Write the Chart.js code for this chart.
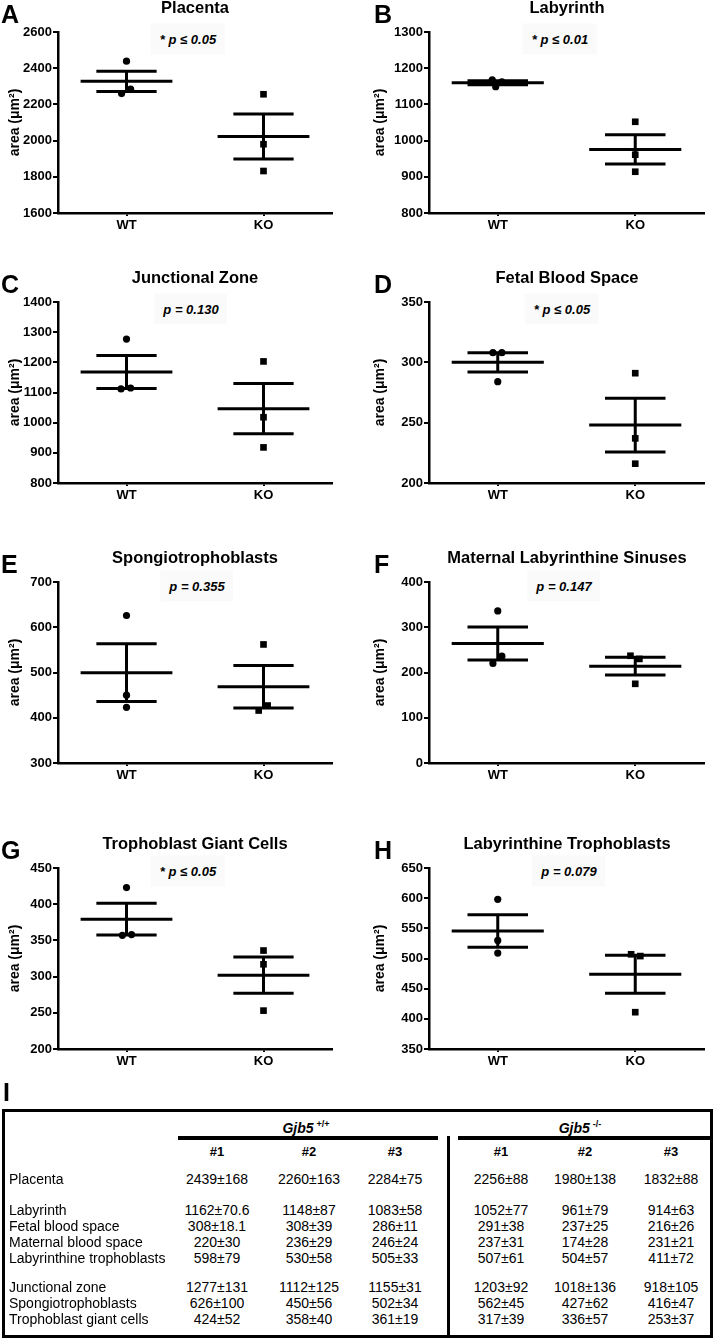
<!DOCTYPE html>
<html>
<head>
<meta charset="utf-8">
<script src="https://cdn.jsdelivr.net/npm/chart.js@4.4.0/dist/chart.umd.min.js"></script>
<style>
body{margin:0;background:#fff;font-family:"Liberation Sans",Arial,sans-serif;color:#000}
#page{position:relative;width:714px;height:1340px;overflow:hidden;background:#fff}
.abs{position:absolute}
.letter{font-size:25px;font-weight:bold;line-height:25px}
.ttl{font-size:16.5px;font-weight:bold;transform:translate(-50%,-50%);white-space:nowrap}
.pval{font-size:13px;font-weight:bold;font-style:italic;transform:translate(-50%,-50%);background:#fafafa;padding:8px 9px;white-space:nowrap}
.cell{font-size:14px;transform:translate(-50%,-50%);white-space:nowrap}
.lab{font-size:14px;transform:translateY(-50%);white-space:nowrap}
.hd{font-size:13px;font-weight:bold;transform:translate(-50%,-50%)}
.gh{font-size:14px;font-weight:bold;font-style:italic;transform:translate(-50%,-50%);white-space:nowrap}
.gh sup{font-size:9px;font-style:normal;vertical-align:6px;margin-left:3px}
.blk{background:#000}
</style>
</head>
<body>
<div id="page"></div>
<script>
// panels A-H
var letters = ['A', 'B', 'C', 'D', 'E', 'F', 'G', 'H'];
var titles = ['Placenta', 'Labyrinth', 'Junctional Zone', 'Fetal Blood Space',
  'Spongiotrophoblasts', 'Maternal Labyrinthine Sinuses', 'Trophoblast Giant Cells', 'Labyrinthine Trophoblasts'];
var pTexts = ['* p ≤ 0.05', '* p ≤ 0.01', 'p = 0.130', '* p ≤ 0.05', 'p = 0.355', 'p = 0.147', '* p ≤ 0.05', 'p = 0.079'];
var groups = ['WT', 'KO'];
var wtValues = [[2439, 2260, 2284], [1168, 1149, 1162], [1277, 1112, 1115], [308, 308, 284],
  [626, 450, 423], [336, 236, 220], [423, 357, 358], [598, 530, 509]];
var koValues = [[2256, 1980, 1832], [1052, 961, 914], [1203, 1018, 918], [291, 237, 216],
  [562, 427, 416], [237, 230, 175], [336, 317, 253], [507, 504, 411]];
var yMin = [1600, 800, 800, 200, 300, 0, 200, 350];
var yMax = [2600, 1300, 1400, 350, 700, 400, 450, 650];
var yStep = [200, 100, 100, 50, 100, 100, 50, 50];
var yTitle = 'area (\u03bcm\u00b2)';

// panel I table
var tableRows = ['Placenta', 'Labyrinth', 'Fetal blood space', 'Maternal blood space', 'Labyrinthine trophoblasts',
  'Junctional zone', 'Spongiotrophoblasts', 'Trophoblast giant cells'];
var colHeads = ['#1', '#2', '#3'];
var wtTable = [
  ['2439\u00b1168', '2260\u00b1163', '2284\u00b175'],
  ['1162\u00b170.6', '1148\u00b187', '1083\u00b158'],
  ['308\u00b118.1', '308\u00b139', '286\u00b111'],
  ['220\u00b130', '236\u00b129', '246\u00b124'],
  ['598\u00b179', '530\u00b158', '505\u00b133'],
  ['1277\u00b1131', '1112\u00b1125', '1155\u00b131'],
  ['626\u00b1100', '450\u00b156', '502\u00b134'],
  ['424\u00b152', '358\u00b140', '361\u00b119']];
var koTable = [
  ['2256\u00b188', '1980\u00b1138', '1832\u00b188'],
  ['1052\u00b177', '961\u00b179', '914\u00b163'],
  ['291\u00b138', '237\u00b125', '216\u00b126'],
  ['237\u00b131', '174\u00b128', '231\u00b121'],
  ['507\u00b161', '504\u00b157', '411\u00b172'],
  ['1203\u00b192', '1018\u00b1136', '918\u00b1105'],
  ['562\u00b145', '427\u00b162', '416\u00b147'],
  ['317\u00b139', '336\u00b157', '253\u00b137']];

// layout
var axisTops = [32, 302, 582, 868];
var pX = [188, 560, 191, 562, 197, 564, 188, 569];
var pDy = [7, 7, 7, 7, 4, 4, 3, 3];
// small horizontal spread of overlapping dots (x units)
var wtSpread = [[0, -0.036, 0.03], [-0.04, -0.015, 0.03], [0, -0.04, 0.03], [-0.035, 0.03, 0],
  [0, 0, 0], [0, 0.03, -0.035], [0, -0.03, 0.037], [0, 0, 0]];
var koSpread = [[0, 0, 0], [0, 0, 0], [0, 0, 0], [0, 0, 0],
  [0, 0.03, -0.035], [-0.035, 0.03, 0], [0, 0, 0], [-0.03, 0.037, 0]];

var page = document.getElementById('page');
var FONT = '"Liberation Sans", Arial, sans-serif';

function addDiv(cls, left, top, html) {
  var d = document.createElement('div');
  d.className = 'abs ' + cls;
  d.style.left = left + 'px';
  d.style.top = top + 'px';
  d.innerHTML = html;
  page.appendChild(d);
  return d;
}

function meanSem(v) {
  var m = v.reduce(function (a, b) { return a + b; }, 0) / v.length;
  var ss = v.reduce(function (a, b) { return a + (b - m) * (b - m); }, 0);
  return [m, Math.sqrt(ss / (v.length - 1)) / Math.sqrt(v.length)];
}

function seg(x1, y1, x2, y2) {
  return {
    data: [{x: x1, y: y1}, {x: x2, y: y2}],
    showLine: true, pointRadius: 0, borderColor: '#000', borderWidth: 3, borderCapStyle: 'butt'
  };
}

function barSets(vals, g) {
  var ms = meanSem(vals);
  return [
    seg(g - 0.335, ms[0], g + 0.335, ms[0]),
    seg(g - 0.22, ms[0] + ms[1], g + 0.22, ms[0] + ms[1]),
    seg(g - 0.22, ms[0] - ms[1], g + 0.22, ms[0] - ms[1]),
    seg(g, ms[0] - ms[1], g, ms[0] + ms[1])
  ];
}

function makePanel(i) {
  var col = i % 2, row = Math.floor(i / 2);
  var top = axisTops[row];
  var left = col * 357;
  var axisW = col ? 72 : 58;
  var rightPad = col ? 10 : 25;

  var box = document.createElement('div');
  box.className = 'abs';
  box.style.left = left + 'px';
  box.style.top = (top - 32) + 'px';
  box.style.width = '357px';
  box.style.height = '250px';
  var cv = document.createElement('canvas');
  cv.width = 357; cv.height = 250;
  cv.style.width = '357px'; cv.style.height = '250px';
  box.appendChild(cv);
  page.appendChild(box);

  var datasets = barSets(wtValues[i], 1).concat(barSets(koValues[i], 2));
  datasets.push({
    data: wtValues[i].map(function (v, k) { return {x: 1 + wtSpread[i][k], y: v}; }),
    pointStyle: 'circle', pointRadius: 3.6, backgroundColor: '#000', borderColor: '#000', borderWidth: 0
  });
  datasets.push({
    data: koValues[i].map(function (v, k) { return {x: 2 + koSpread[i][k], y: v}; }),
    pointStyle: 'rect', pointRadius: 4.7, backgroundColor: '#000', borderColor: '#000', borderWidth: 0
  });

  new Chart(cv, {
    type: 'scatter',
    data: {datasets: datasets},
    options: {
      responsive: false,
      animation: false,
      events: [],
      layout: {padding: {top: 32, right: rightPad, left: 0, bottom: 0}},
      plugins: {legend: {display: false}, tooltip: {enabled: false}},
      scales: {
        x: {
          type: 'linear', min: 0.5, max: 2.5,
          afterBuildTicks: function (s) { s.ticks = [{value: 1}, {value: 2}]; },
          afterFit: function (s) { s.height = 37; },
          ticks: {
            callback: function (v) { return groups[v - 1]; },
            color: '#000', padding: 2, maxRotation: 0,
            font: {family: FONT, size: 13, weight: 'bold'}
          },
          grid: {drawOnChartArea: false, drawTicks: true, tickLength: 3, color: '#000', lineWidth: 2},
          border: {color: '#000', width: 2.5}
        },
        y: {
          min: yMin[i], max: yMax[i],
          afterFit: function (s) { s.width = axisW; },
          ticks: {
            stepSize: yStep[i], color: '#000', padding: 1,
            callback: function (v) { return String(v); },
            font: {family: FONT, size: 13, weight: 'bold'}
          },
          grid: {drawOnChartArea: false, drawTicks: true, tickLength: 5, color: '#000', lineWidth: 2},
          border: {color: '#000', width: 2.5},
          title: {
            display: true, text: yTitle, color: '#000',
            font: {family: FONT, size: 14, weight: 'bold'},
            padding: {top: col ? 15 : 7, bottom: 0}
          }
        }
      }
    }
  });

  addDiv('letter', col ? 374 : 1, top - 30, letters[i]);
  addDiv('ttl', col ? 567 : 195, top - 25, titles[i]);
  addDiv('pval', pX[i], top + pDy[i], pTexts[i]);
}

for (var i = 0; i < 8; i++) makePanel(i);

// panel I
addDiv('letter', 3, 1080, 'I');
var frame = addDiv('', 2, 1109, '');
frame.style.width = '711px';
frame.style.height = '229px';
frame.style.boxSizing = 'border-box';
frame.style.border = '3px solid #000';

addDiv('gh', 306, 1127, 'Gjb5<sup>+/+</sup>');
addDiv('gh', 580, 1127, 'Gjb5<sup>-/-</sup>');
var l1 = addDiv('blk', 178, 1136, ''); l1.style.width = '260px'; l1.style.height = '4px';
var l2 = addDiv('blk', 458, 1136, ''); l2.style.width = '255px'; l2.style.height = '4px';
var l3 = addDiv('blk', 447, 1136, ''); l3.style.width = '3px'; l3.style.height = '202px';

var colX = [217, 309, 395, 501, 585, 671];
var rowY = [1179, 1210, 1226, 1242, 1258, 1287, 1303, 1319];
for (var c = 0; c < 6; c++) addDiv('hd', colX[c], 1151, colHeads[c % 3]);
for (var r = 0; r < tableRows.length; r++) {
  addDiv('lab', 9, rowY[r], tableRows[r]);
  for (var k = 0; k < 3; k++) {
    addDiv('cell', colX[k], rowY[r], wtTable[r][k]);
    addDiv('cell', colX[k + 3], rowY[r], koTable[r][k]);
  }
}
</script>
</body>
</html>
